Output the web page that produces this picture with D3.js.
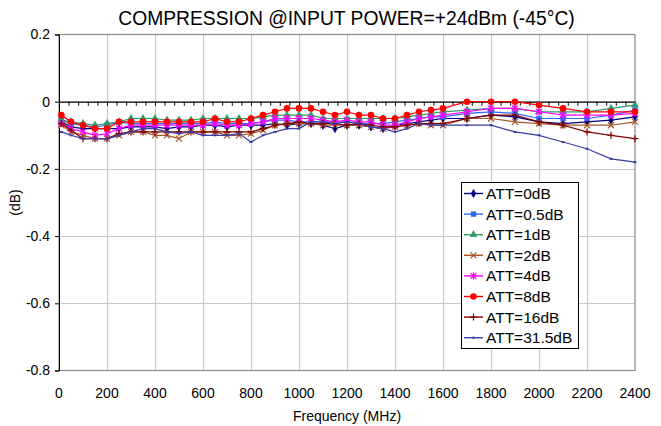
<!DOCTYPE html>
<html><head><meta charset="utf-8">
<script src="https://cdn.jsdelivr.net/npm/d3@7"></script>
<style>body{margin:0;background:#fff}svg text{font-family:"Liberation Sans",Arial,sans-serif;fill:#000}</style>
</head><body><svg id="c" width="661" height="426"></svg>
<script>
const freqs=[10,50,100,150,200,250,300,350,400,450,500,550,600,650,700,750,800,850,900,950,1000,1050,1100,1150,1200,1250,1300,1350,1400,1450,1500,1550,1600,1700,1800,1900,2000,2100,2200,2300,2400];
const att0=[-0.06,-0.075,-0.08,-0.08,-0.08,-0.08,-0.075,-0.075,-0.075,-0.08,-0.075,-0.075,-0.07,-0.07,-0.075,-0.07,-0.07,-0.07,-0.065,-0.07,-0.065,-0.065,-0.07,-0.08,-0.07,-0.07,-0.075,-0.08,-0.07,-0.065,-0.06,-0.055,-0.05,-0.05,-0.04,-0.045,-0.06,-0.065,-0.06,-0.055,-0.045];
const att05=[-0.055,-0.065,-0.07,-0.075,-0.07,-0.06,-0.065,-0.065,-0.065,-0.065,-0.065,-0.065,-0.065,-0.06,-0.065,-0.065,-0.065,-0.06,-0.055,-0.055,-0.06,-0.06,-0.06,-0.06,-0.06,-0.065,-0.065,-0.065,-0.06,-0.055,-0.05,-0.045,-0.045,-0.035,-0.03,-0.035,-0.05,-0.05,-0.05,-0.04,-0.025];
const att1=[-0.055,-0.06,-0.065,-0.07,-0.065,-0.06,-0.05,-0.05,-0.05,-0.055,-0.055,-0.055,-0.05,-0.05,-0.05,-0.05,-0.05,-0.045,-0.04,-0.04,-0.04,-0.04,-0.05,-0.05,-0.05,-0.05,-0.05,-0.05,-0.05,-0.045,-0.04,-0.035,-0.03,-0.025,-0.02,-0.02,-0.03,-0.03,-0.03,-0.02,-0.01];
const att2=[-0.07,-0.09,-0.1,-0.11,-0.11,-0.1,-0.09,-0.09,-0.1,-0.1,-0.11,-0.09,-0.09,-0.09,-0.1,-0.1,-0.095,-0.085,-0.07,-0.065,-0.065,-0.065,-0.07,-0.07,-0.07,-0.07,-0.075,-0.08,-0.075,-0.07,-0.065,-0.07,-0.07,-0.05,-0.05,-0.06,-0.065,-0.07,-0.07,-0.07,-0.06];
const att4=[-0.065,-0.08,-0.09,-0.1,-0.095,-0.08,-0.07,-0.07,-0.07,-0.07,-0.07,-0.07,-0.07,-0.065,-0.07,-0.07,-0.065,-0.06,-0.05,-0.05,-0.05,-0.05,-0.055,-0.06,-0.055,-0.06,-0.06,-0.07,-0.07,-0.06,-0.05,-0.045,-0.04,-0.03,-0.02,-0.02,-0.03,-0.04,-0.04,-0.04,-0.035];
const att8=[-0.04,-0.06,-0.07,-0.08,-0.08,-0.06,-0.06,-0.06,-0.06,-0.06,-0.06,-0.06,-0.06,-0.05,-0.06,-0.06,-0.05,-0.04,-0.03,-0.02,-0.02,-0.02,-0.03,-0.04,-0.03,-0.04,-0.04,-0.05,-0.05,-0.04,-0.03,-0.025,-0.02,0,0,0,-0.01,-0.02,-0.03,-0.03,-0.03];
const att16=[-0.065,-0.085,-0.11,-0.11,-0.11,-0.095,-0.09,-0.09,-0.09,-0.09,-0.09,-0.09,-0.09,-0.09,-0.09,-0.09,-0.09,-0.08,-0.07,-0.065,-0.06,-0.065,-0.065,-0.065,-0.07,-0.065,-0.07,-0.075,-0.075,-0.07,-0.065,-0.065,-0.065,-0.05,-0.04,-0.04,-0.06,-0.07,-0.09,-0.1,-0.11];
const att315=[-0.09,-0.1,-0.11,-0.11,-0.11,-0.1,-0.09,-0.08,-0.08,-0.09,-0.095,-0.09,-0.1,-0.1,-0.1,-0.095,-0.12,-0.1,-0.09,-0.08,-0.08,-0.06,-0.06,-0.065,-0.06,-0.065,-0.075,-0.08,-0.09,-0.08,-0.065,-0.07,-0.07,-0.07,-0.07,-0.09,-0.1,-0.12,-0.14,-0.17,-0.18];
const seriesNames=["ATT=0dB","ATT=0.5dB","ATT=1dB","ATT=2dB","ATT=4dB","ATT=8dB","ATT=16dB","ATT=31.5dB"];
const seriesValues=[att0,att05,att1,att2,att4,att8,att16,att315];
const seriesColors=["#000080","#3366ff","#339966","#a9562a","#ff00ff","#ff0000","#800000","#3d3da6"];
const seriesMarkers=["diamond","square","triangle","x","star","circle","plus","dot"];
const xTickLabels=[0,200,400,600,800,1000,1200,1400,1600,1800,2000,2200,2400];
const yTickLabels=[0.2,0,-0.2,-0.4,-0.6,-0.8];
const titleText="COMPRESSION @INPUT POWER=+24dBm (-45°C)";
const xTitle="Frequency (MHz)";
const yTitle="(dB)";

const svg=d3.select("#c");
const L=59,R=635,T=34.5,B=370.5;
const x=d3.scaleLinear().domain([0,2400]).range([L,R]);
const y=d3.scaleLinear().domain([-0.8,0.2]).range([B,T]);
const fmt=v=>String(Math.round(v*10)/10).replace("\u2212","-");

svg.append("rect").attr("width",661).attr("height",426).attr("fill","#fff");
const g=svg.append("g");
g.selectAll(".vg").data(xTickLabels.slice(1,-1)).join("line")
 .attr("x1",d=>Math.round(x(d))+0.5).attr("x2",d=>Math.round(x(d))+0.5).attr("y1",T).attr("y2",B)
 .attr("stroke","#c8c8c8").attr("stroke-width",1.2);
g.selectAll(".hg").data(yTickLabels.filter(d=>d!==0.2&&d!==-0.8)).join("line")
 .attr("y1",d=>Math.round(y(d))+0.5).attr("y2",d=>Math.round(y(d))+0.5).attr("x1",L).attr("x2",R)
 .attr("stroke","#c8c8c8").attr("stroke-width",1.2);
svg.append("rect").attr("x",L).attr("y",T).attr("width",R-L).attr("height",B-T)
 .attr("fill","none").attr("stroke","#8c8c8c").attr("stroke-width",1.2);

const yAxis=d3.axisLeft(y).tickValues(yTickLabels).tickSize(4).tickFormat(fmt);
const ya=svg.append("g").attr("transform",`translate(${L},0)`).call(yAxis);
ya.select(".domain").attr("stroke","#000");
ya.selectAll("text").attr("font-size",14).attr("x",-9).style("font-family",'"Liberation Sans",Arial,sans-serif');
const xa=svg.append("g").attr("transform",`translate(0,${y(0)})`)
 .call(d3.axisBottom(x).tickValues(d3.range(0,2401,40)).tickSize(4).tickSizeOuter(0).tickFormat(""));
xa.select(".domain").attr("stroke","#000").attr("stroke-width",1.2);
svg.append("g").selectAll("text").data(xTickLabels).join("text")
 .attr("x",d=>x(d)).attr("y",B+27).attr("text-anchor","middle").attr("font-size",14).text(d=>d);

svg.append("text").attr("x",346.5).attr("y",25).attr("text-anchor","middle").attr("font-size",19.3).text(titleText);
svg.append("text").attr("x",(L+R)/2).attr("y",421).attr("text-anchor","middle").attr("font-size",14).text(xTitle);
svg.append("text").attr("transform",`translate(20,${(T+B)/2}) rotate(-90)`).attr("text-anchor","middle").attr("font-size",14).text(yTitle);

function marker(sel,type,color){
  const sym={diamond:d3.symbolDiamond,square:d3.symbolSquare,triangle:d3.symbolTriangle};
  if(sym[type]){
    const size={diamond:20,square:24,triangle:22}[type];
    sel.append("path").attr("d",d3.symbol(sym[type],size)()).attr("fill",color).attr("stroke",color).attr("stroke-width",0.5);
  } else if(type==="circle"){
    sel.append("circle").attr("r",3.3).attr("fill",color);
  } else if(type==="x"){
    sel.append("path").attr("d","M-3,-3L3,3M-3,3L3,-3").attr("stroke",color).attr("stroke-width",1.2);
  } else if(type==="star"){
    sel.append("path").attr("d","M-3,-3L3,3M-3,3L3,-3M0,-3.5L0,3.5").attr("stroke",color).attr("stroke-width",1.2);
  } else if(type==="plus"){
    sel.append("path").attr("d","M-3.5,0L3.5,0M0,-3.5L0,3.5").attr("stroke",color).attr("stroke-width",1.2);
  } else if(type==="dot"){
    sel.append("rect").attr("x",-1.5).attr("y",-1).attr("width",3).attr("height",2).attr("fill",color);
  }
}

const line=d3.line().x(d=>x(d[0])).y(d=>y(d[1]));
seriesValues.forEach((vals,i)=>{
  const pts=freqs.map((f,j)=>[f,vals[j]]);
  const sg=svg.append("g");
  sg.append("path").datum(pts).attr("d",line).attr("fill","none").attr("stroke",seriesColors[i]).attr("stroke-width",1.2);
  sg.selectAll("g").data(pts).join("g").attr("transform",d=>`translate(${x(d[0])},${y(d[1])})`)
    .each(function(){marker(d3.select(this),seriesMarkers[i],seriesColors[i]);});
});

const lg=svg.append("g");
lg.append("rect").attr("x",461.5).attr("y",182.5).attr("width",117).attr("height",166).attr("fill","#fff").attr("stroke","#000").attr("stroke-width",1);
seriesNames.forEach((n,i)=>{
  const cy=193.5+i*20.6;
  lg.append("line").attr("x1",464).attr("x2",483).attr("y1",cy).attr("y2",cy).attr("stroke",seriesColors[i]).attr("stroke-width",1.4);
  marker(lg.append("g").attr("transform",`translate(473.5,${cy})`),seriesMarkers[i],seriesColors[i]);
  lg.append("text").attr("x",486).attr("y",cy+5.5).attr("font-size",15.5).text(n);
});
</script></body></html>
